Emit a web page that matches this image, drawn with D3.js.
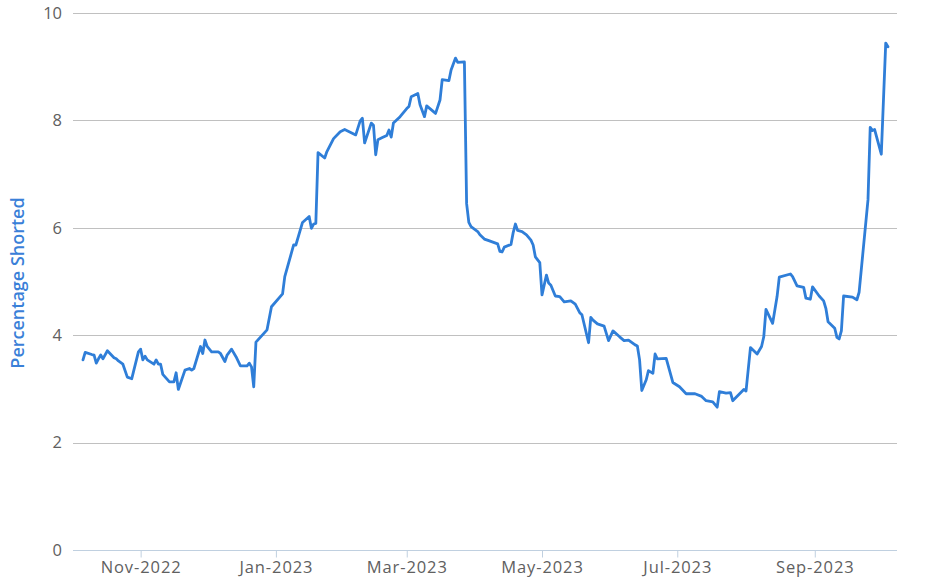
<!DOCTYPE html>
<html>
<head>
<meta charset="utf-8">
<script src="https://cdn.jsdelivr.net/npm/d3@7"></script>
<style>
  html, body { margin: 0; padding: 0; background: #fff; }
  svg { display: block; }
</style>
</head>
<body>
<svg id="chart" width="929" height="579"></svg>
<script>
const dates = [
"2022-10-06","2022-10-07","2022-10-10","2022-10-11","2022-10-12","2022-10-13","2022-10-14","2022-10-15","2022-10-17","2022-10-20",
"2022-10-21","2022-10-22","2022-10-24","2022-10-26","2022-10-28","2022-10-31","2022-11-01","2022-11-02","2022-11-03","2022-11-04",
"2022-11-07","2022-11-08","2022-11-09","2022-11-10","2022-11-11","2022-11-14","2022-11-16","2022-11-17","2022-11-18","2022-11-21",
"2022-11-23","2022-11-24","2022-11-25","2022-11-28","2022-11-29","2022-11-30","2022-12-01","2022-12-03","2022-12-06","2022-12-07",
"2022-12-09","2022-12-10","2022-12-12","2022-12-14","2022-12-16","2022-12-19","2022-12-20","2022-12-21","2022-12-22","2022-12-23",
"2022-12-28","2022-12-30","2023-01-04","2023-01-05","2023-01-09","2023-01-10","2023-01-13","2023-01-16","2023-01-17","2023-01-18",
"2023-01-19","2023-01-20","2023-01-23","2023-01-24","2023-01-27","2023-01-30","2023-02-01","2023-02-06","2023-02-08","2023-02-09",
"2023-02-10","2023-02-13","2023-02-14","2023-02-15","2023-02-16","2023-02-18","2023-02-20","2023-02-21","2023-02-22","2023-02-23",
"2023-02-26","2023-03-01","2023-03-02","2023-03-03","2023-03-06","2023-03-07","2023-03-09","2023-03-10","2023-03-14","2023-03-16",
"2023-03-17","2023-03-20","2023-03-21","2023-03-23","2023-03-24","2023-03-27","2023-03-28","2023-03-29","2023-03-30","2023-04-02",
"2023-04-03","2023-04-05","2023-04-07","2023-04-11","2023-04-12","2023-04-13","2023-04-14","2023-04-17","2023-04-18","2023-04-19",
"2023-04-20","2023-04-22","2023-04-24","2023-04-26","2023-04-27","2023-04-28","2023-04-30","2023-05-01","2023-05-03","2023-05-04",
"2023-05-05","2023-05-07","2023-05-09","2023-05-11","2023-05-14","2023-05-16","2023-05-18","2023-05-19","2023-05-22","2023-05-23",
"2023-05-24","2023-05-26","2023-05-29","2023-05-31","2023-06-02","2023-06-05","2023-06-07","2023-06-09","2023-06-12","2023-06-13",
"2023-06-14","2023-06-15","2023-06-17","2023-06-18","2023-06-20","2023-06-21","2023-06-22","2023-06-26","2023-06-29","2023-07-02",
"2023-07-05","2023-07-09","2023-07-12","2023-07-14","2023-07-17","2023-07-19","2023-07-20","2023-07-23","2023-07-25","2023-07-26",
"2023-07-31","2023-08-01","2023-08-03","2023-08-06","2023-08-08","2023-08-09","2023-08-10","2023-08-13","2023-08-15","2023-08-16",
"2023-08-21","2023-08-22","2023-08-24","2023-08-27","2023-08-28","2023-08-30","2023-08-31","2023-09-03","2023-09-05","2023-09-06",
"2023-09-07","2023-09-10","2023-09-11","2023-09-12","2023-09-13","2023-09-14","2023-09-18","2023-09-20","2023-09-21","2023-09-25",
"2023-09-26","2023-09-27","2023-09-28","2023-10-01","2023-10-03","2023-10-04"
];
const shorted = [
3.54,3.68,3.64,3.63,3.48,3.56,3.63,3.56,3.71,3.58,
3.56,3.52,3.46,3.22,3.19,3.69,3.74,3.54,3.61,3.54,
3.46,3.54,3.46,3.46,3.27,3.13,3.13,3.30,2.99,3.35,
3.38,3.35,3.38,3.79,3.66,3.91,3.79,3.69,3.69,3.66,
3.51,3.63,3.74,3.60,3.43,3.43,3.48,3.41,3.04,3.87,
4.10,4.53,4.77,5.09,5.68,5.68,6.10,6.21,5.99,6.07,
6.08,7.40,7.30,7.42,7.66,7.79,7.83,7.73,7.99,8.04,
7.58,7.95,7.91,7.36,7.64,7.68,7.72,7.82,7.69,7.95,
8.07,8.22,8.26,8.44,8.50,8.29,8.07,8.27,8.13,8.38,
8.76,8.74,8.94,9.16,9.08,9.09,6.45,6.10,6.02,5.93,
5.87,5.79,5.76,5.70,5.56,5.55,5.64,5.69,5.91,6.07,
5.95,5.93,5.87,5.77,5.68,5.46,5.35,4.75,5.12,4.97,
4.93,4.73,4.72,4.62,4.64,4.58,4.42,4.38,3.86,4.33,
4.28,4.21,4.17,3.90,4.08,3.97,3.90,3.91,3.82,3.80,
3.54,2.97,3.17,3.34,3.29,3.65,3.56,3.57,3.12,3.04,
2.91,2.91,2.86,2.78,2.76,2.66,2.95,2.92,2.93,2.78,
2.99,2.96,3.77,3.65,3.79,3.97,4.48,4.22,4.72,5.08,
5.14,5.09,4.92,4.89,4.69,4.67,4.90,4.73,4.64,4.50,
4.25,4.13,3.96,3.93,4.08,4.73,4.71,4.66,4.80,6.52,
7.87,7.81,7.83,7.37,9.44,9.37
];
const yTicks = [0, 2, 4, 6, 8, 10];
const yTitle = "Percentage Shorted";
const xStart = "2022-10-01T12:00";
const xEnd = "2023-10-08T02:00";

(function () {
const parse = d3.timeParse("%Y-%m-%d");
const parseT = d3.timeParse("%Y-%m-%dT%H:%M");
const data = dates.map((d, i) => ({ date: parse(d), value: shorted[i] }));

const svg = d3.select("#chart");
const pLeft = 73, pRight = 897, pTop = 13, pBottom = 550;
const FONT = "'Open Sans', sans-serif";
const LINE = "#2f7ed8";

const x = d3.scaleTime().domain([parseT(xStart), parseT(xEnd)]).range([pLeft, pRight]);
const y = d3.scaleLinear().domain([0, 10]).range([pBottom, pTop]);

// gridlines
svg.append("g").selectAll("line")
  .data(yTicks.filter(t => t > 0))
  .join("line")
  .attr("x1", pLeft).attr("x2", pRight)
  .attr("y1", d => Math.round(y(d)) + 0.5).attr("y2", d => Math.round(y(d)) + 0.5)
  .attr("stroke", "#c0c0c0").attr("stroke-width", 1);

// y labels
const yAxis = d3.axisLeft(y).tickValues(yTicks).tickSize(0).tickPadding(11);
const gy = svg.append("g").attr("transform", `translate(${pLeft},0)`).call(yAxis);
gy.select(".domain").remove();
gy.selectAll("text").attr("font-family", FONT).attr("font-size", 16.5).attr("fill", "#606060");

// x axis
const xAxis = d3.axisBottom(x).ticks(d3.timeMonth.every(2)).tickFormat(d3.timeFormat("%b-%Y")).tickSize(7).tickPadding(4);
const gx = svg.append("g").attr("transform", `translate(0,${pBottom + 0.5})`).call(xAxis);
gx.select(".domain").attr("stroke", "#c0d0e0").attr("d", `M${pLeft},0H${pRight}`);
gx.selectAll(".tick line").attr("stroke", "#c0d0e0");
gx.selectAll("text").attr("font-family", FONT).attr("font-size", 16.5)
  .attr("letter-spacing", "0.9px").attr("fill", "#606060");

// y title
svg.append("text")
  .attr("transform", `translate(24,283) rotate(-90)`)
  .attr("text-anchor", "middle")
  .attr("font-family", FONT).attr("font-size", 18).attr("font-weight", 600)
  .attr("fill", "#3a80d8")
  .text(yTitle);

// line
const line = d3.line().x(d => x(d.date)).y(d => y(d.value));
svg.append("path").datum(data)
  .attr("d", line)
  .attr("fill", "none")
  .attr("stroke", LINE)
  .attr("stroke-width", 2.8)
  .attr("stroke-linejoin", "round")
  .attr("stroke-linecap", "round");
})();
</script>
</body>
</html>
